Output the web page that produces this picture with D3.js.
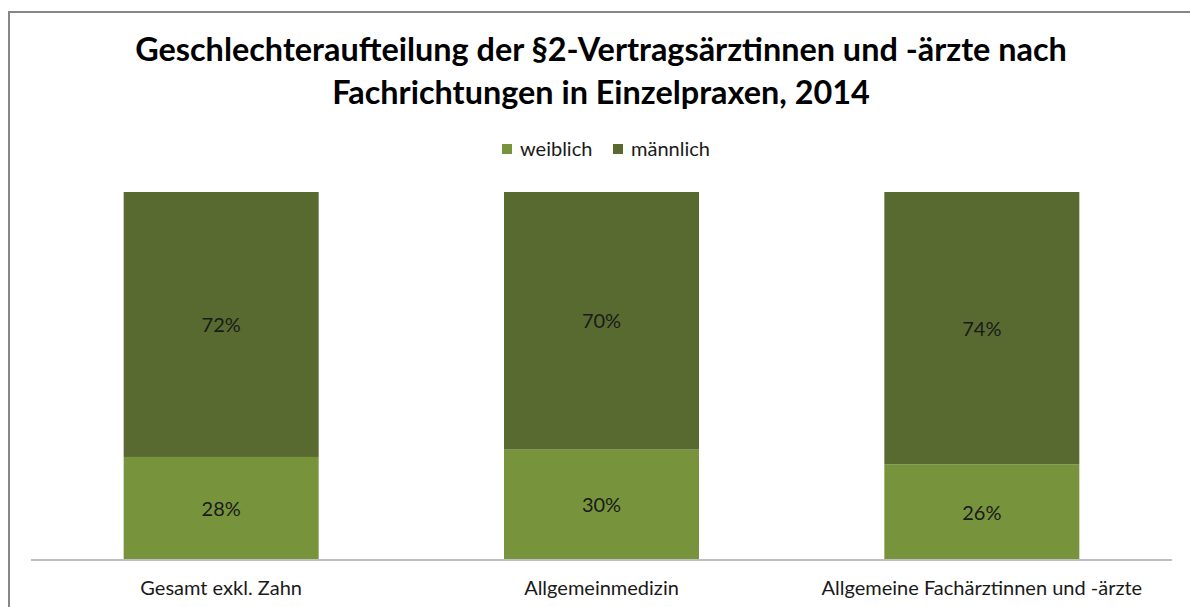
<!DOCTYPE html>
<html><head><meta charset="utf-8">
<script src="https://cdn.jsdelivr.net/npm/d3@7"></script>
<style>body{margin:0;background:#fff}svg{display:block}text{font-family:Lato,"Open Sans",sans-serif}</style>
</head><body>
<svg id="c" width="1190" height="607"></svg>
<script>
const categories = ["Gesamt exkl. Zahn", "Allgemeinmedizin", "Allgemeine Fachärztinnen und -ärzte"];
const weiblich = [28, 30, 26];
const maennlich = [72, 70, 74];
const seriesNames = ["weiblich", "männlich"];
const colors = ["#77933C", "#586A2F"];
const titleLines = ["Geschlechteraufteilung der §2-Vertragsärztinnen und -ärzte nach", "Fachrichtungen in Einzelpraxen, 2014"];

const svg = d3.select("#c");
// frame
svg.append("path").attr("d", "M9,607 L9,12 L1190,12").attr("fill","none").attr("stroke","#878787").attr("stroke-width",2);

// title
const t = svg.append("g");
const tl = t.selectAll("text").data(titleLines).join("text")
  .attr("x", 601).attr("y", (d,i)=> i===0 ? 61 : 104)
  .attr("text-anchor","middle").attr("font-weight","bold").attr("font-size",30).attr("fill","#000").text(d=>d);
const w0 = tl.node().getComputedTextLength();
const fs = 30 * 932 / w0;
tl.attr("font-size", fs);

const rows = categories.map((c,i)=>({cat:c, weiblich:weiblich[i], männlich:maennlich[i]}));
const stack = d3.stack().keys(seriesNames)(rows);

const x = d3.scaleBand().domain(categories).range([31,1172]).paddingInner(0.4873).paddingOuter(0.4873/2);
const y = d3.scaleLinear().domain([0,100]).range([560,192]);

const g = svg.append("g");
stack.forEach((s,si)=>{
  g.selectAll(null).data(s).join("rect")
    .attr("x", d=>x(d.data.cat)).attr("width", x.bandwidth())
    .attr("y", d=>y(d[1])).attr("height", d=>y(d[0])-y(d[1]))
    .attr("fill", colors[si]);
  g.selectAll(null).data(s).join("text")
    .attr("x", d=>x(d.data.cat)+x.bandwidth()/2)
    .attr("y", d=>(y(d[0])+y(d[1]))/2 + 7.5)
    .attr("text-anchor","middle").attr("font-size",20).attr("fill","#1a1a1a")
    .text(d=>(d[1]-d[0])+"%");
});

// axis
const ax = svg.append("g").attr("transform","translate(0,560)").call(d3.axisBottom(x).tickSize(0).tickPadding(21));
ax.select(".domain").attr("stroke","#BFBFBF").attr("stroke-width",2).attr("d","M31,0H1172");
ax.selectAll(".tick text").attr("font-size",20).attr("fill","#1a1a1a").attr("font-family","Lato,'Open Sans',sans-serif");

// legend
const legendX = [502, 613];
const lg = svg.append("g");
seriesNames.forEach((n,i)=>{
  lg.append("rect").attr("x",legendX[i]).attr("y",144).attr("width",10).attr("height",10).attr("fill",colors[i]);
  lg.append("text").attr("x",legendX[i]+18).attr("y",156).attr("font-size",20).attr("fill","#1a1a1a").text(n);
});
</script>
</body></html>
